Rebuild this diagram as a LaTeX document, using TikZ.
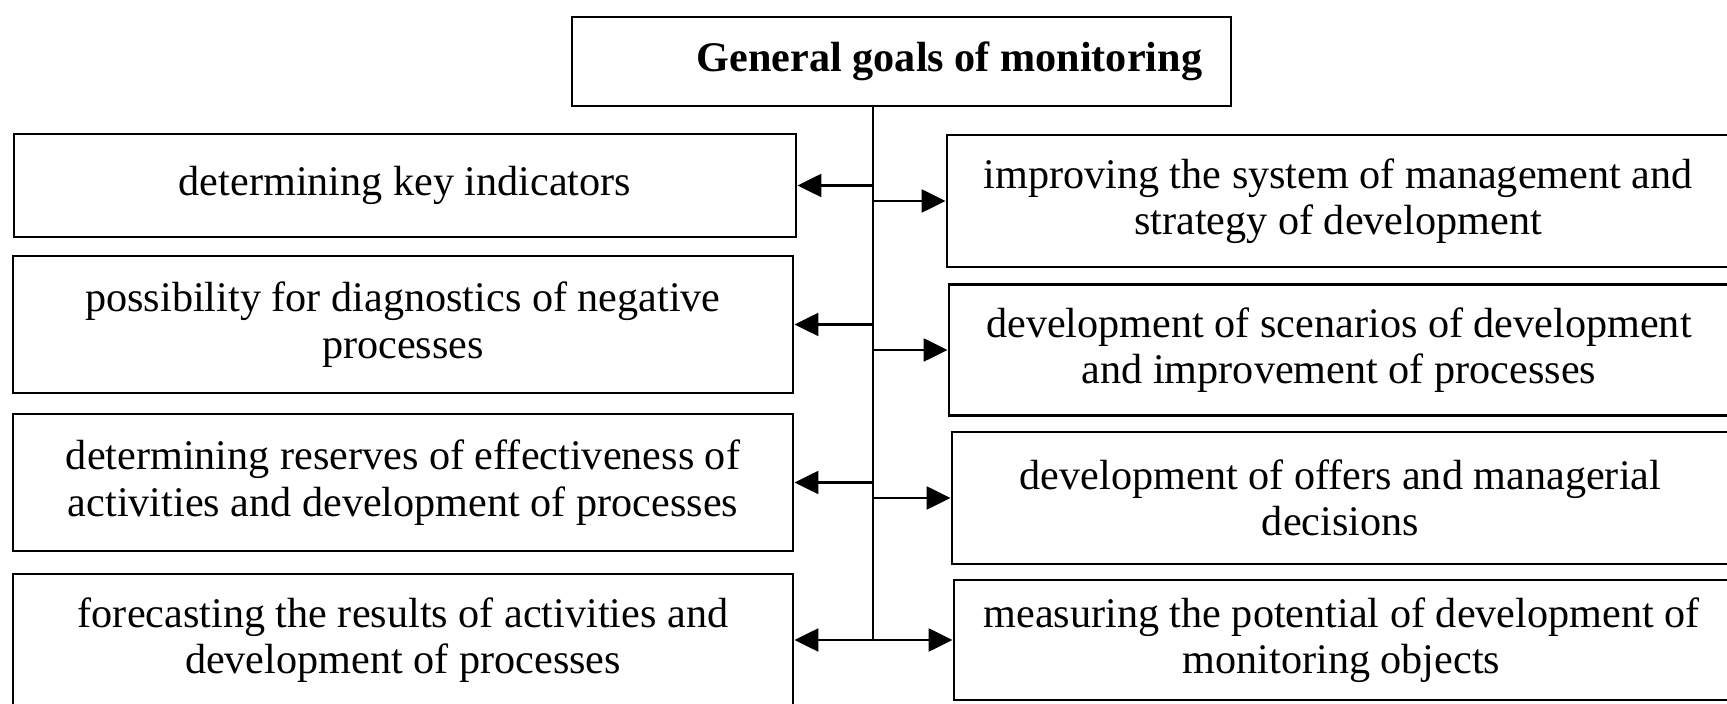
\documentclass[tikz,border=0pt]{standalone}
\usepackage{fontspec}
\setmainfont{Liberation Serif}
\usetikzlibrary{arrows.meta}

\begin{document}
\begin{tikzpicture}[x=0.01cm,y=-0.01cm,
    goal/.style={draw,line width=0.7pt,inner sep=0pt,align=center,
      font=\fontsize{12}{13.2}\selectfont},
    goalarrow/.style={line width=0.7pt,-{Triangle[length=2.4mm,width=2.3mm]}}]
  \useasboundingbox (0,0) rectangle (1727,704);
  \clip (0,0) rectangle (1727,704);

  % head
  \node[goal,minimum width=6.59cm,minimum height=0.89cm,
    font=\bfseries\fontsize{12}{13.2}\selectfont] (top) at (901.5,61.5)
    {\hspace*{0.96cm}General goals of monitoring};

  % left column
  \node[goal,minimum width=7.82cm,minimum height=1.03cm] (l1) at (405,185.5)
    {determining key indicators};
  \node[goal,minimum width=7.80cm,minimum height=1.37cm] (l2) at (403,324.5)
    {possibility for diagnostics of negative\\processes};
  \node[goal,minimum width=7.80cm,minimum height=1.37cm] (l3) at (403,482.5)
    {determining reserves of effectiveness of\\activities and development of processes};
  \node[goal,minimum width=7.80cm,minimum height=1.32cm] (l4) at (403,640)
    {forecasting the results of activities and\\development of processes};

  % right column
  \node[goal,minimum width=7.82cm,minimum height=1.32cm] (r1) at (1338,201)
    {improving the system of management and\\strategy of development};
  \node[goal,minimum width=7.80cm,minimum height=1.31cm] (r2) at (1339,350)
    {development of scenarios of development\\and improvement of processes};
  \node[goal,minimum width=7.77cm,minimum height=1.32cm] (r3) at (1340.5,498)
    {development of offers and managerial\\decisions};
  \node[goal,minimum width=7.75cm,minimum height=1.20cm] (r4) at (1341.5,640)
    {measuring the potential of development of\\monitoring objects};

  % trunk and branches
  \coordinate (trunk) at (873,640);
  \draw[line width=0.7pt] (top.south -| trunk) -- (trunk);

  \foreach \n in {l1,l2,l3,l4}{
    \draw[goalarrow] (trunk |- \n.east) -- (\n.east);
  }
  \foreach \n in {r1,r2,r3,r4}{
    \draw[goalarrow] (trunk |- \n.west) -- (\n.west);
  }
\end{tikzpicture}
\end{document}
